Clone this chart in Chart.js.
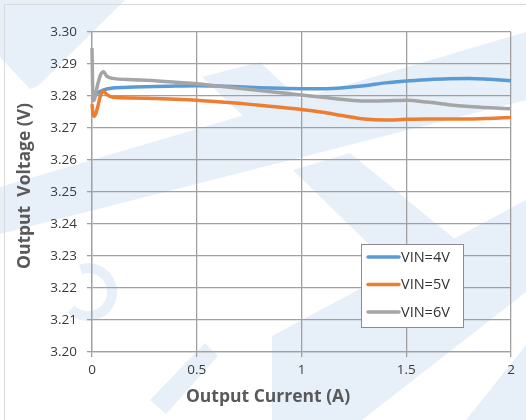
<!DOCTYPE html>
<html>
<head>
<meta charset="utf-8">
<script src="https://cdn.jsdelivr.net/npm/chart.js@4/dist/chart.umd.min.js"></script>
<style>
  html, body { margin: 0; padding: 0; background: #ffffff; }
  canvas { display: block; }
</style>
</head>
<body>
<canvas id="chart" width="526" height="420"></canvas>
<script>
// Load current (A) at each measurement point
const currentA = [0, 0.005, 0.012, 0.025, 0.04, 0.055, 0.07, 0.1, 0.2, 0.3, 0.4, 0.5, 0.6, 0.7, 0.8, 0.9, 1.0, 1.1, 1.2, 1.3, 1.4, 1.5, 1.6, 1.7, 1.8, 1.9, 2.0];

// Output voltage (V) for each input voltage
const vin4V = [3.2790, 3.2795, 3.2800, 3.2808, 3.2815, 3.2819, 3.2822, 3.2825, 3.2828, 3.2830, 3.2831, 3.2832, 3.2831, 3.2829, 3.2826, 3.2824, 3.2823, 3.2823, 3.2826, 3.2832, 3.2841, 3.2847, 3.2851, 3.2854, 3.2855, 3.2852, 3.2848];
const vin5V = [3.2775, 3.2745, 3.2737, 3.2760, 3.2800, 3.2815, 3.2805, 3.2796, 3.2794, 3.2792, 3.2790, 3.2787, 3.2782, 3.2777, 3.2771, 3.2765, 3.2758, 3.2749, 3.2738, 3.2728, 3.2725, 3.2727, 3.2728, 3.2728, 3.2728, 3.2730, 3.2733];
const vin6V = [3.2950, 3.2785, 3.2790, 3.2830, 3.2865, 3.2876, 3.2862, 3.2855, 3.2851, 3.2848, 3.2843, 3.2838, 3.2831, 3.2824, 3.2817, 3.2810, 3.2803, 3.2796, 3.2789, 3.2784, 3.2785, 3.2787, 3.2781, 3.2773, 3.2767, 3.2763, 3.2760];

const seriesNames  = ['VIN=4V', 'VIN=5V', 'VIN=6V'];
const seriesColors = ['#5B9BD5', '#ED7D31', '#A5A5A5'];

// Axis ticks
const xTickValues = [0, 0.5, 1, 1.5, 2];
const xTickLabels = ['0', '0.5', '1', '1.5', '2'];
const yTickValues = [3.20, 3.21, 3.22, 3.23, 3.24, 3.25, 3.26, 3.27, 3.28, 3.29, 3.30];
const yTickLabels = ['3.20', '3.21', '3.22', '3.23', '3.24', '3.25', '3.26', '3.27', '3.28', '3.29', '3.30'];

const xTitle = 'Output Current (A)';
const yTitle = 'Output  Voltage (V)';

const FONT = '"Open Sans", "Liberation Sans", sans-serif';
const GRID = '#a0a0a0';

const seriesValues = [vin4V, vin5V, vin6V];
const datasets = seriesValues.map((vals, i) => ({
  label: seriesNames[i],
  data: currentA.map((x, k) => ({ x: x, y: vals[k] })),
  borderColor: seriesColors[i],
  backgroundColor: seriesColors[i],
  borderWidth: 3.5,
  pointRadius: 0,
  cubicInterpolationMode: 'monotone',
  clip: 6,
  order: seriesValues.length - 1 - i
}));

// Soft pale-blue background artwork plus the outer frame
const backdrop = {
  id: 'backdrop',
  beforeDraw(chart) {
    const ctx = chart.ctx;
    ctx.save();
    ctx.fillStyle = '#ffffff';
    ctx.fillRect(0, 0, chart.width, chart.height);
    ctx.fillStyle = '#e7f0f9';
    const shapes = [
      [[0, 0], [125, 0], [38, 86], [30, 89], [0, 57]],
      [[0, 187], [526, 32], [526, 100], [0, 234]],
      [[202, 77], [260, 62], [332, 130], [290, 160]],
      [[293, 170], [350, 153], [462, 245], [432, 275], [395, 270]],
      [[272, 336], [526, 200], [526, 292], [362, 420], [272, 420]],
      [[466, 420], [526, 345], [526, 420]],
      [[150, 400], [205, 343], [218, 356], [166, 414]]
    ];
    shapes.forEach(pts => {
      ctx.beginPath();
      ctx.moveTo(pts[0][0], pts[0][1]);
      for (let i = 1; i < pts.length; i++) ctx.lineTo(pts[i][0], pts[i][1]);
      ctx.closePath();
      ctx.fill();
    });
    ctx.strokeStyle = '#e7f0f9';
    ctx.lineWidth = 10;
    ctx.beginPath();
    ctx.arc(88, 292, 24, -Math.PI * 0.6, Math.PI * 0.75);
    ctx.stroke();
    ctx.strokeStyle = '#d9d9d9';
    ctx.lineWidth = 1;
    ctx.strokeRect(4.5, 4.5, 540, 430);
    ctx.restore();
  }
};

// Axis titles and the boxed legend inside the plot
const annotations = {
  id: 'annotations',
  afterDraw(chart) {
    const ctx = chart.ctx;
    ctx.save();
    ctx.fillStyle = '#595959';
    ctx.font = 'bold 17.5px ' + FONT;
    ctx.textAlign = 'center';
    ctx.textBaseline = 'middle';
    ctx.fillText(xTitle, 268, 397);
    ctx.translate(25, 186);
    ctx.rotate(-Math.PI / 2);
    ctx.fillText(yTitle, 0, 0);
    ctx.restore();

    ctx.save();
    ctx.fillStyle = '#ffffff';
    ctx.fillRect(361.5, 244.5, 102, 83);
    ctx.strokeStyle = '#8c8c8c';
    ctx.lineWidth = 1;
    ctx.strokeRect(361.5, 244.5, 102, 83);
    ctx.font = '14.5px ' + FONT;
    ctx.textAlign = 'left';
    ctx.textBaseline = 'middle';
    chart.data.datasets.forEach((ds, i) => {
      const y = 257 + i * 27.5;
      ctx.strokeStyle = ds.borderColor;
      ctx.lineWidth = 3.5;
      ctx.lineCap = 'round';
      ctx.beginPath();
      ctx.moveTo(368, y);
      ctx.lineTo(399, y);
      ctx.stroke();
      ctx.fillStyle = '#333333';
      ctx.fillText(ds.label, 401, y + 0.5);
    });
    ctx.restore();
  }
};

new Chart(document.getElementById('chart'), {
  type: 'line',
  data: { datasets: datasets },
  plugins: [backdrop, annotations],
  options: {
    responsive: false,
    animation: false,
    layout: { padding: { left: 0, right: 15, top: 32, bottom: 0 } },
    plugins: { legend: { display: false }, tooltip: { enabled: false } },
    scales: {
      x: {
        type: 'linear',
        min: 0,
        max: 2,
        afterBuildTicks(scale) { scale.ticks = xTickValues.map(v => ({ value: v })); },
        afterFit(scale) { scale.height = 68; },
        ticks: {
          callback: (v) => xTickLabels[xTickValues.indexOf(v)],
          color: '#3a3a3a',
          font: { family: FONT, size: 13.5 },
          padding: 5,
          maxRotation: 0
        },
        grid: { color: GRID, lineWidth: 1.3, tickLength: 5 },
        border: { color: GRID, width: 1.3 }
      },
      y: {
        type: 'linear',
        min: 3.20,
        max: 3.30,
        afterBuildTicks(scale) { scale.ticks = yTickValues.map(v => ({ value: v })); },
        afterFit(scale) { scale.width = 92; },
        ticks: {
          callback: (v) => yTickLabels[yTickValues.findIndex(t => Math.abs(t - v) < 1e-9)],
          color: '#3a3a3a',
          font: { family: FONT, size: 13.5 },
          padding: 10
        },
        grid: { color: GRID, lineWidth: 1.3, tickLength: 5 },
        border: { color: GRID, width: 1.3 }
      }
    }
  }
});
</script>
</body>
</html>
